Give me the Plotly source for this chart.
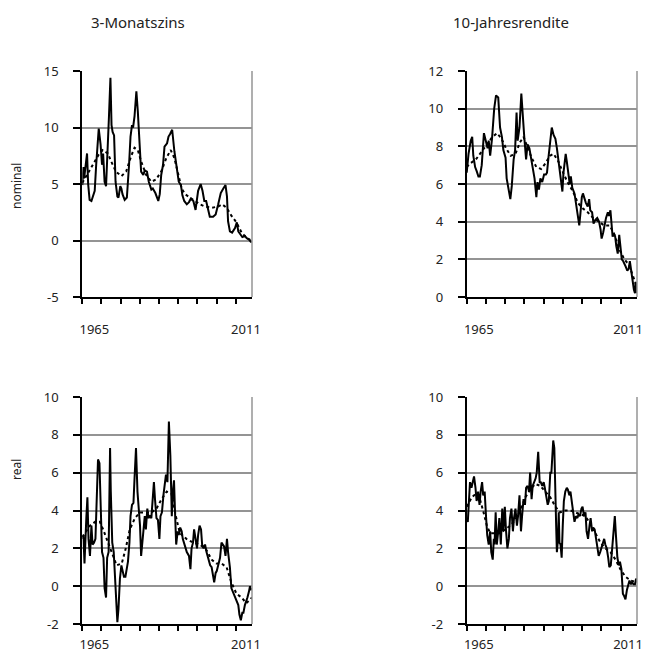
import plotly.graph_objects as go
from plotly.subplots import make_subplots

col_titles = ["3-Monatszins", "10-Jahresrendite"]
row_titles = ["nominal", "real"]
x_tick_labels = ["1965", "2011"]
ytick_nom3m = [-5, 0, 5, 10, 15]
ytick_nom10y = [0, 2, 4, 6, 8, 10, 12]
ytick_real = [-2, 0, 2, 4, 6, 8, 10]

# ---- nominal 3-month rate ----
nom3m_years = [1965.0, 1965.3, 1965.5, 1965.8, 1966.3, 1966.6, 1967.0, 1967.5, 1967.9, 1968.4,
               1968.8, 1969.5, 1970.0, 1970.4, 1970.7, 1971.1, 1971.5, 1971.8, 1972.3, 1972.7,
               1973.0, 1973.3, 1973.7, 1974.1, 1974.6, 1974.9, 1975.4, 1975.7, 1976.0, 1976.6,
               1977.2, 1977.8, 1978.2, 1978.6, 1978.9, 1979.3, 1979.8, 1980.2, 1980.8, 1981.1,
               1981.7, 1982.1, 1982.7, 1983.2, 1983.9, 1984.3, 1985.0, 1985.4, 1985.8, 1986.2,
               1986.6, 1987.1, 1987.5, 1988.2, 1988.6, 1989.0, 1989.6, 1990.2, 1990.8, 1991.4,
               1992.0, 1992.4, 1992.9, 1993.6, 1994.2, 1994.7, 1995.4, 1996.0, 1996.7, 1997.4,
               1997.9, 1998.4, 1998.9, 1999.5, 1999.9, 2000.8, 2001.5, 2002.2, 2002.9, 2003.6,
               2004.2, 2004.6, 2004.9, 2005.4, 2006.0, 2006.8, 2007.3, 2007.7, 2008.4, 2008.8,
               2009.5, 2010.0, 2010.6, 2011.1, 2011.4]
nom3m_vals = [4.9, 6.5, 5.5, 6.6, 7.7, 5.0, 3.6, 3.5, 4.0, 4.4,
              6.7, 9.9, 8.5, 6.7, 7.7, 5.2, 4.8, 6.7, 11.0, 14.4,
              10.2, 9.6, 9.3, 5.2, 3.9, 3.8, 4.8, 4.6, 4.1, 3.6,
              3.8, 6.7, 9.2, 10.2, 10.0, 11.0, 13.2, 11.4, 8.5, 6.1,
              5.8, 6.2, 6.1, 5.2, 4.5, 4.6, 4.2, 3.8, 3.5, 4.1,
              5.8, 6.7, 8.3, 8.6, 9.2, 9.4, 9.8, 7.9, 6.7, 5.2,
              4.9, 4.0, 3.5, 3.2, 3.4, 3.7, 3.5, 2.7, 4.4, 5.0,
              4.4, 3.5, 3.5, 2.6, 2.1, 2.1, 2.3, 3.2, 4.2, 4.6,
              4.9, 3.9, 1.7, 0.8, 0.7, 1.1, 1.6, 0.8, 0.5, 0.3,
              0.4, 0.2, 0.1, -0.1, -0.1]
nom3m_trend_years = [1965.0, 1966.6, 1968.4, 1969.5, 1970.6, 1972.0, 1972.9, 1974.2, 1975.7, 1977.0,
                     1978.4, 1979.3, 1980.2, 1981.1, 1982.5, 1983.9, 1985.2, 1986.6, 1988.0, 1989.2,
                     1990.2, 1991.3, 1992.2, 1993.1, 1994.5, 1995.8, 1997.2, 1998.6, 2000.4, 2002.2,
                     2003.3, 2004.5, 2005.8, 2007.2, 2008.6, 2010.0, 2011.4]
nom3m_trend_vals = [5.1, 6.0, 7.0, 7.6, 8.0, 7.7, 7.0, 6.1, 5.7, 6.1,
                    7.5, 8.2, 8.0, 7.0, 5.8, 5.2, 5.4, 6.1, 7.3, 8.0,
                    7.3, 5.8, 4.6, 4.1, 3.8, 3.5, 3.2, 3.0, 2.9, 3.0,
                    3.2, 2.9, 2.2, 1.6, 0.7, 0.2, 0.0]

# ---- nominal 10-year yield ----
nom10y_years = [1965.0, 1965.5, 1966.1, 1966.5, 1966.8, 1967.3, 1967.7, 1968.2, 1968.6, 1969.1,
                1969.7, 1970.3, 1970.7, 1971.0, 1971.4, 1971.9, 1972.5, 1973.0, 1973.6, 1974.1,
                1974.6, 1975.0, 1975.6, 1975.9, 1976.5, 1976.9, 1977.3, 1977.8, 1978.2, 1978.6,
                1978.9, 1979.4, 1979.9, 1980.3, 1980.7, 1981.2, 1981.6, 1982.1, 1982.5, 1983.0,
                1983.5, 1984.0, 1984.3, 1984.7, 1985.1, 1985.6, 1986.1, 1986.6, 1986.9, 1987.3,
                1987.8, 1988.2, 1988.7, 1989.2, 1989.6, 1990.1, 1990.5, 1991.1, 1991.4, 1992.0,
                1992.3, 1992.7, 1993.1, 1993.4, 1993.8, 1994.4, 1994.9, 1995.4, 1995.7, 1996.0,
                1996.4, 1996.7, 1997.1, 1997.5, 1998.0, 1998.4, 1998.7, 1999.2, 1999.6, 2000.1,
                2000.6, 2001.1, 2001.5, 2001.8, 2002.2, 2002.6, 2003.0, 2003.5, 2003.8, 2004.2,
                2004.6, 2004.8, 2005.1, 2005.5, 2005.8, 2006.2, 2006.6, 2006.9, 2007.3, 2007.7,
                2008.0, 2008.4, 2008.8, 2009.2, 2009.5, 2009.9, 2010.2, 2010.6, 2010.9, 2011.1,
                2011.3, 2011.45]
nom10y_vals = [6.6, 7.6, 8.3, 8.5, 7.5, 6.9, 6.7, 6.4, 6.4, 7.0,
               8.7, 8.2, 7.9, 8.3, 7.5, 8.4, 10.0, 10.7, 10.6, 9.0,
               8.5, 7.8, 7.4, 6.3, 5.7, 5.2, 5.9, 7.3, 7.8, 9.8,
               8.3, 9.0, 10.8, 9.4, 8.5, 7.3, 8.1, 7.9, 7.4, 7.0,
               6.3, 5.3, 6.1, 5.7, 6.3, 6.1, 6.5, 6.5, 6.6, 7.4,
               8.3, 9.0, 8.6, 8.4, 7.9, 7.2, 6.6, 5.6, 6.6, 7.6,
               7.2, 6.6, 6.0, 6.4, 5.8, 5.5, 4.8, 4.1, 3.8, 4.4,
               5.3, 5.5, 5.2, 5.0, 4.8, 5.2, 4.6, 4.5, 3.9, 4.1,
               4.2, 4.0, 3.6, 3.1, 3.4, 3.9, 4.2, 4.5, 4.3, 4.6,
               3.6, 3.2, 3.4, 3.2, 2.7, 2.3, 3.3, 2.7, 2.0, 1.9,
               1.8, 1.6, 1.4, 1.5, 1.9, 1.3, 0.8, 0.4, 0.2, 0.8,
               0.2, 0.4]
nom10y_trend_years = [1965.0, 1966.0, 1967.5, 1969.0, 1970.5, 1972.0, 1973.3, 1974.5, 1975.7, 1977.0,
                      1978.3, 1979.5, 1980.5, 1981.5, 1982.7, 1984.0, 1985.3, 1986.5, 1987.7, 1988.7,
                      1990.0, 1991.3, 1992.5, 1994.0, 1995.3, 1996.7, 1998.0, 1999.5, 2001.0, 2002.5,
                      2004.0, 2005.3, 2006.7, 2008.0, 2009.3, 2010.5, 2011.45]
nom10y_trend_vals = [6.9, 7.1, 7.3, 7.7, 8.1, 8.5, 8.7, 8.4, 7.9, 7.5,
                     7.6, 8.2, 8.5, 8.0, 7.4, 6.9, 6.8, 7.1, 7.5, 7.6,
                     7.2, 6.6, 6.1, 5.6, 5.0, 4.7, 4.5, 4.2, 4.0, 3.8,
                     3.8, 3.3, 2.5, 2.0, 1.7, 1.0, 0.5]

# ---- real 3-month rate ----
real3m_years = [1965.0, 1965.3, 1965.6, 1965.8, 1966.1, 1966.4, 1966.7, 1967.1, 1967.5, 1967.8,
                1968.2, 1968.6, 1968.9, 1969.3, 1969.7, 1970.0, 1970.4, 1970.8, 1971.1, 1971.5,
                1971.8, 1972.2, 1972.6, 1972.8, 1973.2, 1973.6, 1973.8, 1974.2, 1974.6, 1974.9,
                1975.3, 1975.7, 1976.0, 1976.4, 1976.8, 1977.1, 1977.5, 1977.9, 1978.2, 1978.6,
                1979.0, 1979.3, 1979.7, 1980.1, 1980.4, 1980.8, 1981.1, 1981.6, 1982.1, 1982.4,
                1982.8, 1983.1, 1983.5, 1983.9, 1984.2, 1984.6, 1984.9, 1985.3, 1985.7, 1986.1,
                1986.4, 1986.8, 1987.2, 1987.5, 1987.9, 1988.3, 1988.7, 1989.1, 1989.4, 1989.5,
                1989.8, 1990.1, 1990.4, 1990.7, 1991.1, 1991.4, 1991.8, 1992.2, 1992.5, 1992.9,
                1993.3, 1993.6, 1994.2, 1994.6, 1994.9, 1995.3, 1995.6, 1996.0, 1996.4, 1996.7,
                1997.1, 1997.5, 1997.8, 1998.2, 1998.6, 1999.0, 1999.5, 2000.0, 2000.4, 2000.8,
                2001.1, 2001.5, 2001.8, 2002.2, 2002.7, 2003.1, 2003.5, 2003.8, 2004.2, 2004.6,
                2004.9, 2005.4, 2005.8, 2006.2, 2006.6, 2006.9, 2007.3, 2007.7, 2008.0, 2008.4,
                2008.8, 2009.1, 2009.5, 2009.9, 2010.2, 2010.6, 2010.9, 2011.1, 2011.45]
real3m_vals = [2.5, 2.7, 1.2, 2.7, 3.6, 4.7, 2.5, 1.6, 3.2, 2.2,
               2.3, 2.5, 5.0, 6.7, 6.5, 4.3, 1.8, 1.5, -0.1, -0.6,
               1.5, 1.8, 7.3, 5.0, 2.3, 1.8, 0.9, -1.0, -1.9, -1.2,
               0.4, 1.1, 0.9, 0.5, 0.5, 0.9, 1.3, 2.3, 3.7, 4.3,
               4.4, 5.7, 7.3, 5.0, 4.2, 3.2, 1.6, 2.9, 3.7, 3.0,
               4.1, 3.6, 3.7, 3.6, 4.5, 5.5, 4.6, 3.6, 3.5, 2.5,
               3.7, 3.9, 4.8, 5.2, 5.9, 5.5, 8.7, 6.9, 5.3, 3.7,
               5.0, 5.6, 3.8, 2.2, 2.9, 2.7, 3.1, 2.9, 2.5, 2.3,
               2.0, 1.8, 1.6, 0.9, 2.0, 2.3, 3.0, 2.5, 2.0, 2.7,
               3.2, 3.0, 2.2, 2.0, 2.2, 1.8, 1.5, 1.1, 1.0, 0.4,
               0.2, 0.7, 0.8, 1.1, 1.5, 2.3, 2.2, 2.1, 1.6, 2.5,
               1.8, 1.0, -0.1, -0.3, -0.5, -0.7, -0.8, -1.0, -1.5, -1.8,
               -1.4, -1.4, -1.0, -0.8, -0.6, -0.3, 0.0, -0.2, -0.1]
real3m_trend_years = [1965.0, 1965.7, 1967.1, 1968.5, 1969.8, 1970.7, 1971.7, 1973.0, 1974.4, 1975.8,
                      1976.9, 1978.0, 1979.4, 1980.8, 1982.4, 1984.0, 1985.3, 1986.7, 1988.1, 1989.4,
                      1990.6, 1991.7, 1993.5, 1995.4, 1997.2, 1999.0, 2000.4, 2001.7, 2003.1, 2004.5,
                      2005.8, 2007.2, 2008.6, 2009.9, 2011.45]
real3m_trend_vals = [2.6, 2.8, 3.2, 3.4, 3.4, 3.0, 2.5, 1.8, 1.1, 1.2,
                     2.0, 3.0, 3.6, 3.9, 3.9, 3.9, 4.1, 4.6, 5.0, 4.9,
                     3.7, 2.8, 2.5, 2.3, 2.2, 1.9, 1.4, 1.2, 1.2, 1.0,
                     0.2, -0.4, -0.6, -0.9, -0.6]

# ---- real 10-year yield ----
real10y_years = [1965.0, 1965.3, 1965.5, 1965.9, 1966.3, 1966.6, 1967.0, 1967.4, 1967.7, 1968.1,
                 1968.5, 1968.8, 1969.2, 1969.5, 1969.9, 1970.3, 1970.6, 1971.0, 1971.4, 1971.7,
                 1972.1, 1972.4, 1972.6, 1972.9, 1973.2, 1973.6, 1973.9, 1974.3, 1974.7, 1975.0,
                 1975.4, 1975.7, 1976.1, 1976.5, 1976.8, 1977.2, 1977.6, 1977.9, 1978.3, 1978.7,
                 1979.0, 1979.4, 1979.8, 1980.1, 1980.5, 1980.9, 1981.2, 1981.6, 1982.0, 1982.3,
                 1982.7, 1983.0, 1983.4, 1983.8, 1984.1, 1984.5, 1984.9, 1985.2, 1985.6, 1986.0,
                 1986.3, 1986.7, 1987.1, 1987.4, 1987.8, 1988.1, 1988.6, 1988.9, 1989.2, 1989.4,
                 1989.6, 1989.9, 1990.1, 1990.3, 1990.6, 1990.9, 1991.2, 1991.5, 1991.9, 1992.3,
                 1992.6, 1993.0, 1993.3, 1993.7, 1994.1, 1994.4, 1994.8, 1995.2, 1995.5, 1995.9,
                 1996.3, 1996.6, 1997.0, 1997.4, 1997.7, 1998.1, 1998.5, 1998.8, 1999.2, 1999.5,
                 1999.9, 2000.3, 2000.6, 2001.0, 2001.4, 2001.7, 2002.1, 2002.5, 2002.8, 2003.2,
                 2003.6, 2003.9, 2004.3, 2004.7, 2005.0, 2005.4, 2005.7, 2006.1, 2006.5, 2006.8,
                 2007.2, 2007.6, 2007.9, 2008.3, 2008.7, 2009.0, 2009.4, 2009.8, 2010.1, 2010.5,
                 2010.9, 2011.2, 2011.45]
real10y_vals = [3.5, 3.4, 4.1, 5.5, 5.2, 5.5, 5.8, 5.2, 4.5, 5.0,
                4.3, 5.0, 5.5, 4.8, 5.0, 3.6, 2.7, 2.2, 2.9, 1.8,
                1.4, 2.5, 2.2, 3.9, 2.2, 2.9, 3.6, 2.2, 4.1, 2.9,
                4.2, 3.0, 2.0, 2.5, 3.6, 4.1, 2.9, 3.6, 4.1, 3.2,
                3.7, 4.8, 2.9, 3.7, 4.6, 4.3, 5.2, 5.3, 5.0, 6.0,
                4.6, 5.3, 5.5, 5.7, 6.0, 7.1, 5.5, 5.5, 5.3, 5.5,
                5.2, 4.8, 4.3, 4.5, 6.0, 6.0, 7.7, 7.3, 5.5, 3.2,
                1.8, 2.5, 3.9, 2.3, 2.2, 1.5, 3.2, 4.5, 5.0, 5.2,
                5.1, 4.8, 5.0, 4.5, 3.9, 3.4, 3.7, 3.6, 3.8, 3.7,
                4.1, 4.2, 3.7, 3.9, 2.9, 2.5, 3.2, 3.6, 2.9, 3.1,
                3.0, 2.5, 2.1, 1.6, 1.8, 2.0, 2.3, 2.5, 2.2, 2.0,
                1.5, 1.0, 1.1, 2.2, 2.9, 3.7, 2.7, 1.5, 1.1, 1.3,
                0.9, -0.4, -0.5, -0.7, -0.2, 0.1, 0.3, 0.1, 0.2, 0.1,
                0.1, 0.4, 0.2]
real10y_trend_years = [1965.0, 1965.5, 1966.4, 1967.6, 1968.6, 1969.6, 1970.5, 1971.4, 1972.7, 1974.1,
                       1975.5, 1976.9, 1978.2, 1979.6, 1981.0, 1982.3, 1983.7, 1985.1, 1986.4, 1987.8,
                       1989.2, 1990.5, 1991.9, 1993.3, 1994.6, 1996.0, 1997.4, 1998.7, 2000.1, 2001.5,
                       2002.8, 2004.2, 2005.6, 2006.9, 2008.3, 2009.7, 2011.45]
real10y_trend_vals = [4.2, 4.4, 4.7, 4.9, 4.6, 3.9, 3.2, 2.8, 2.8, 2.8,
                      3.0, 3.2, 3.5, 4.0, 4.7, 5.1, 5.4, 5.3, 5.0, 4.7,
                      4.2, 3.9, 4.0, 4.0, 3.9, 3.8, 3.7, 3.3, 2.8, 2.3,
                      2.0, 1.8, 1.4, 0.9, 0.5, 0.3, 0.2]

# ---------------------------------------------------------------
# The page has an 8px body margin, so the figure is drawn 8px in from the
# window corner; sizes/positions below are in window pixels minus that offset.
OFF = 8
W, H = 653 - 2 * OFF, 662 - 2 * OFF
FONT = "Noto Sans"
GRID = "#949494"


def px_x(sx):
    return (sx - OFF) / W


def px_y(sy):
    return 1 - (sy - OFF) / H


panels = [
    (1, 1, nom3m_years, nom3m_vals, nom3m_trend_years, nom3m_trend_vals, [-5, 15], ytick_nom3m),
    (1, 2, nom10y_years, nom10y_vals, nom10y_trend_years, nom10y_trend_vals, [0, 12], ytick_nom10y),
    (2, 1, real3m_years, real3m_vals, real3m_trend_years, real3m_trend_vals, [-2, 10], ytick_real),
    (2, 2, real10y_years, real10y_vals, real10y_trend_years, real10y_trend_vals, [-2, 10], ytick_real),
]

fig = make_subplots(rows=2, cols=2)

xdom = {1: [px_x(82.3), px_x(252.0)], 2: [px_x(466.7), px_x(637.0)]}
ydom = {1: [px_y(297.0), px_y(71.0)], 2: [px_y(624.0), px_y(397.0)]}
xstandoff = {1: 19, 2: 7}
xlabel_pos = {1: [1968.3, 2009.8], 2: [1968.3, 2009.0]}

for r, c, xs, ys, txs, tys, yr, yticks in panels:
    fig.add_trace(go.Scatter(x=xs, y=ys, mode="lines",
                             line=dict(color="black", width=2), showlegend=False,
                             hoverinfo="skip"), row=r, col=c)
    fig.add_trace(go.Scatter(x=txs, y=tys, mode="lines",
                             line=dict(color="black", width=2, dash="dot"), showlegend=False,
                             hoverinfo="skip"), row=r, col=c)
    fig.update_xaxes(domain=xdom[c], range=[1965, 2011.45], automargin=False,
                     showline=True, linecolor="black", linewidth=2,
                     showgrid=False, zeroline=False,
                     tickmode="array", tickvals=xlabel_pos[c], ticktext=x_tick_labels,
                     ticks="", ticklabelstandoff=xstandoff[r], ticklabeloverflow="allow",
                     tickfont=dict(family=FONT, size=13, color="#222"),
                     minor=dict(ticks="outside", ticklen=5, tickwidth=1.5, tickcolor="black",
                                tickmode="linear", tick0=1965, dtick=5.25, showgrid=False),
                     row=r, col=c)
    fig.update_yaxes(domain=ydom[r], range=yr, automargin=False,
                     tickmode="array", tickvals=yticks, ticktext=[str(v) for v in yticks],
                     showline=True, linecolor="black", linewidth=2,
                     showgrid=True, gridcolor=GRID, gridwidth=1.5, zeroline=False,
                     ticks="outside", ticklen=7, tickwidth=1.5, tickcolor="black",
                     ticklabelstandoff=12,
                     tickfont=dict(family=FONT, size=13, color="#222"),
                     row=r, col=c)
    fig.add_shape(type="line", xref="x domain", yref="y domain", x0=1, x1=1, y0=0, y1=1,
                  line=dict(color=GRID, width=1.5), row=r, col=c)

annotations = [
    dict(text=col_titles[0], x=px_x(138), y=px_y(22), font=dict(size=15)),
    dict(text=col_titles[1], x=px_x(511), y=px_y(22), font=dict(size=15)),
    dict(text=row_titles[0], x=px_x(16), y=px_y(186), textangle=-90, font=dict(size=12)),
    dict(text=row_titles[1], x=px_x(16), y=px_y(470), textangle=-90, font=dict(size=12)),
]
for a in annotations:
    a.update(xref="paper", yref="paper", showarrow=False, xanchor="center", yanchor="middle")
    a["font"].update(family=FONT, color="#222")
    fig.add_annotation(**a)

fig.update_layout(width=W, height=H, margin=dict(l=0, r=0, t=0, b=0, autoexpand=False),
                  paper_bgcolor="white", plot_bgcolor="white",
                  font=dict(family=FONT, color="#222"), showlegend=False)

fig.write_html("out.html")
